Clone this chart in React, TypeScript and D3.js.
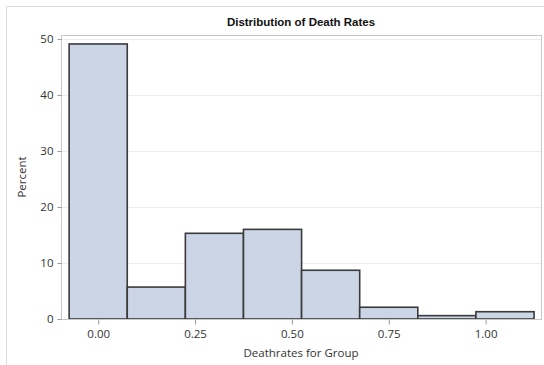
import React, { useRef, useEffect } from 'react';
import { select, scaleLinear, axisLeft, axisBottom, format } from 'd3';

const binMids = [0, 0.15, 0.3, 0.45, 0.6, 0.75, 0.9, 1.05];
const percents = [49.1, 5.7, 15.3, 16.0, 8.7, 2.1, 0.6, 1.3];
const binWidth = 0.15;
const xTicks = [0, 0.25, 0.5, 0.75, 1.0];
const yTicks = [0, 10, 20, 30, 40, 50];

const W = 544;
const H = 365;
const plot = { left: 61, right: 541, top: 35, bottom: 319 };
const font = '"Open Sans", "DejaVu Sans", sans-serif';

export default function App() {
  const svgRef = useRef<SVGSVGElement>(null);

  useEffect(() => {
    const svg = select(svgRef.current);
    svg.selectAll('*').remove();

    const x = scaleLinear().domain([-0.096, 1.143]).range([plot.left, plot.right]);
    const y = scaleLinear().domain([0, 50.7]).range([plot.bottom, plot.top]);

    // outer border
    svg.append('rect')
      .attr('x', 6.5).attr('y', 6.5).attr('width', W).attr('height', H)
      .attr('fill', 'none').attr('stroke', '#dcdcdc');

    // grid lines
    svg.append('g').selectAll('line')
      .data(yTicks.filter(t => t > 0))
      .join('line')
      .attr('x1', plot.left).attr('x2', plot.right)
      .attr('y1', d => Math.round(y(d)) + 0.5).attr('y2', d => Math.round(y(d)) + 0.5)
      .attr('stroke', '#ececec');

    // bars
    svg.append('g').selectAll('rect')
      .data(binMids)
      .join('rect')
      .attr('x', d => x(d - binWidth / 2))
      .attr('width', d => x(d + binWidth / 2) - x(d - binWidth / 2))
      .attr('y', (d, i) => y(percents[i]))
      .attr('height', (d, i) => y(0) - y(percents[i]))
      .attr('fill', '#cbd5e6')
      .attr('stroke', '#3a3a3a')
      .attr('stroke-width', 1.6);

    // plot frame
    svg.append('rect')
      .attr('x', plot.left + 0.5).attr('y', plot.top + 0.5)
      .attr('width', plot.right - plot.left).attr('height', plot.bottom - plot.top)
      .attr('fill', 'none').attr('stroke', '#c8c8c8');

    // y axis
    const yAxis = axisLeft(y).tickValues(yTicks).tickFormat(format('d')).tickSize(4).tickPadding(4);
    const gy = svg.append('g').attr('transform', `translate(${plot.left + 0.5},0)`).call(yAxis);
    gy.select('.domain').remove();
    gy.selectAll('line').attr('stroke', '#999');
    gy.selectAll('text').attr('font-family', font).attr('font-size', 11.5).attr('fill', '#333');

    // x axis
    const xAxis = axisBottom(x).tickValues(xTicks).tickFormat(format('.2f')).tickSize(5).tickPadding(5);
    const gx = svg.append('g').attr('transform', `translate(0,${plot.bottom + 0.5})`).call(xAxis);
    gx.select('.domain').remove();
    gx.selectAll('line').attr('stroke', '#999');
    gx.selectAll('text').attr('font-family', font).attr('font-size', 11.5).attr('fill', '#333');

    // title
    svg.append('text')
      .attr('x', (plot.left + plot.right) / 2).attr('y', 26)
      .attr('text-anchor', 'middle')
      .attr('font-family', '"Liberation Sans", Arial, sans-serif')
      .attr('font-weight', 'bold').attr('font-size', 11.5).attr('fill', '#111')
      .text('Distribution of Death Rates');

    // axis labels
    svg.append('text')
      .attr('x', (plot.left + plot.right) / 2).attr('y', 357)
      .attr('text-anchor', 'middle')
      .attr('font-family', font).attr('font-size', 11.5).attr('fill', '#333')
      .text('Deathrates for Group');

    svg.append('text')
      .attr('transform', `translate(26,${(plot.top + plot.bottom) / 2}) rotate(-90)`)
      .attr('text-anchor', 'middle')
      .attr('font-family', font).attr('font-size', 11.5).attr('fill', '#333')
      .text('Percent');
  }, []);

  return (
    <svg ref={svgRef} width={W} height={H}
      style={{ position: 'absolute', left: 0, top: 0, background: '#fff' }} />
  );
}
